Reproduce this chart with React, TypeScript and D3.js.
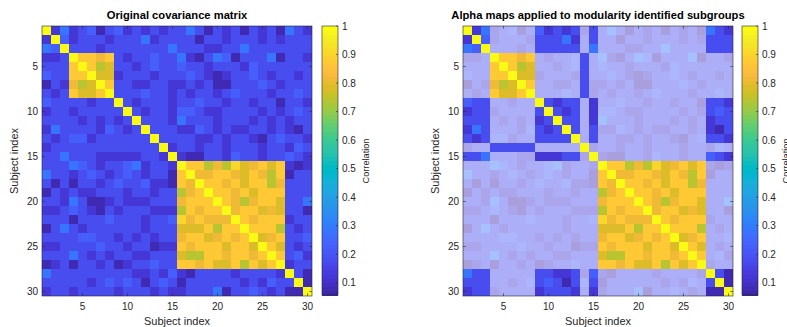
import React from 'react';
import * as d3 from 'd3';

// ---------- data ----------
const SUBJECTS: number[] = [1,2,3,4,5,6,7,8,9,10,11,12,13,14,15,16,17,18,19,20,21,22,23,24,25,26,27,28,29,30];
const AXIS_TICKS: number[] = [5, 10, 15, 20, 25, 30];
const CBAR_TICKS: number[] = [0.1, 0.2, 0.3, 0.4, 0.5, 0.6, 0.7, 0.8, 0.9, 1];
const COLOR_LIMITS: [number, number] = [0.057, 1];

// value codes used in the triangle below
const CODE_VALUES: Record<string, number> = {
  '1': 0.08, '2': 0.13, '3': 0.18, '4': 0.23, '5': 0.28,
  g: 0.74, o: 0.78, d: 0.82, r: 0.87, s: 0.91, Y: 1,
};

// row i: values for columns i+1 .. 30 (matrix is symmetric, diagonal = 1)
const UPPER_TRIANGLE: string[] = [
  '25234134232323353132313231532',
  '4233323335' + '2333313323' + '33232333',
  '333233333' + '3353332233' + '53333333',
  'rrdr' + '3233433' + '521354133351332',
  'rgo' + '3323433' + '433233324333333',
  'oo' + '2333233' + '343212334323323',
  'r' + '3322332' + '232311333432333',
  '3334332' + '323323433323343',
  '323332' + '334332332331332',
  '32332' + '443223333232343',
  '3332' + '533323332323233',
  '333' + '224323223323213',
  '33' + '332232332134332',
  '2' + '332332333233243',
  '211332433233432',
  'rrgdgsodror' + '212',
  'ddrrdordgr' + '133',
  'rrdrorrgd' + '333',
  'rrdrorrr' + '333',
  'rdgdrro' + '335',
  'drrodo' + '331',
  'rdrrr' + '233',
  'rrrg' + '323',
  'odr' + '334',
  'ro' + '323',
  'r' + '342',
  '233',
  '31',
  '1',
];

// modularity-identified subgroups
const MODULE_A: number[] = [4, 5, 6, 7, 8, 14];
const MODULE_B: number[] = [1, 2, 3, 9, 10, 11, 12, 13, 15, 28, 29, 30];
const MODULE_C: number[] = [16, 17, 18, 19, 20, 21, 22, 23, 24, 25, 26, 27];
const OUTSIDE_ALPHA = 0.45;

// MATLAB parula colormap (64 entries)
const PARULA: number[][] = [
  [0.2422,0.1504,0.6603],[0.2504,0.1650,0.7076],[0.2578,0.1818,0.7511],[0.2647,0.1978,0.7952],
  [0.2706,0.2147,0.8364],[0.2751,0.2342,0.8710],[0.2783,0.2559,0.8991],[0.2803,0.2782,0.9221],
  [0.2813,0.3006,0.9414],[0.2810,0.3228,0.9579],[0.2795,0.3447,0.9717],[0.2760,0.3667,0.9829],
  [0.2699,0.3892,0.9906],[0.2602,0.4123,0.9952],[0.2440,0.4358,0.9988],[0.2206,0.4603,0.9973],
  [0.1963,0.4847,0.9892],[0.1834,0.5074,0.9798],[0.1786,0.5289,0.9682],[0.1764,0.5499,0.9520],
  [0.1687,0.5703,0.9359],[0.1540,0.5902,0.9218],[0.1460,0.6091,0.9079],[0.1380,0.6276,0.8973],
  [0.1248,0.6459,0.8883],[0.1113,0.6635,0.8763],[0.0952,0.6798,0.8598],[0.0689,0.6948,0.8394],
  [0.0297,0.7082,0.8163],[0.0036,0.7203,0.7917],[0.0067,0.7312,0.7660],[0.0433,0.7411,0.7394],
  [0.0964,0.7500,0.7120],[0.1408,0.7584,0.6842],[0.1717,0.7670,0.6554],[0.1938,0.7758,0.6251],
  [0.2161,0.7843,0.5923],[0.2470,0.7918,0.5567],[0.2906,0.7973,0.5188],[0.3406,0.8008,0.4789],
  [0.3909,0.8029,0.4354],[0.4456,0.8024,0.3909],[0.5044,0.7993,0.3480],[0.5616,0.7942,0.3045],
  [0.6174,0.7876,0.2612],[0.6720,0.7793,0.2227],[0.7242,0.7698,0.1910],[0.7738,0.7598,0.1646],
  [0.8203,0.7498,0.1535],[0.8634,0.7406,0.1596],[0.9035,0.7330,0.1774],[0.9393,0.7288,0.2100],
  [0.9728,0.7298,0.2394],[0.9956,0.7434,0.2371],[0.9970,0.7659,0.2199],[0.9952,0.7893,0.2028],
  [0.9892,0.8136,0.1885],[0.9786,0.8386,0.1766],[0.9676,0.8639,0.1643],[0.9610,0.8890,0.1537],
  [0.9597,0.9135,0.1423],[0.9628,0.9373,0.1265],[0.9691,0.9606,0.1064],[0.9769,0.9839,0.0805],
];

// ---------- helpers ----------
const FONT = '"Liberation Sans", Arial, Helvetica, sans-serif';
const TEXT = '#262626';
const AXIS = '#262626';

const parulaColors = PARULA.map(c => d3.rgb(c[0] * 255, c[1] * 255, c[2] * 255).formatHex());

function colorFor(v: number): string {
  const t = Math.max(0, Math.min(1, (v - COLOR_LIMITS[0]) / (COLOR_LIMITS[1] - COLOR_LIMITS[0])));
  const idx = Math.min(PARULA.length - 1, Math.floor(t * PARULA.length));
  return parulaColors[idx];
}

function buildMatrix(): number[][] {
  const n = SUBJECTS.length;
  const m: number[][] = SUBJECTS.map(() => SUBJECTS.map(() => 1));
  for (let i = 0; i < n; i++) {
    const row = UPPER_TRIANGLE[i] || '';
    for (let j = i + 1; j < n; j++) {
      const ch = row[j - i - 1];
      const v = CODE_VALUES[ch] ?? 0.18;
      m[i][j] = v;
      m[j][i] = v;
    }
  }
  return m;
}

function moduleOf(s: number): number {
  if (MODULE_A.includes(s)) return 0;
  if (MODULE_B.includes(s)) return 1;
  if (MODULE_C.includes(s)) return 2;
  return -1;
}

type PanelProps = {
  x0: number; y0: number; size: number; cbarX: number;
  title: string; useAlpha: boolean; matrix: number[][]; yLabelX: number;
};

function Panel({ x0, y0, size, cbarX, title, useAlpha, matrix, yLabelX }: PanelProps) {
  const xs = d3.scaleBand<number>().domain(SUBJECTS).range([x0, x0 + size]);
  const ys = d3.scaleBand<number>().domain(SUBJECTS).range([y0, y0 + size]);
  const bw = xs.bandwidth();
  const tickLen = 2.7;
  const cbarW = 16;
  const cbarTop = y0;
  const cbarBottom = y0 + size - 1;
  const cy = d3.scaleLinear().domain(COLOR_LIMITS).range([cbarBottom, cbarTop]);
  const bandVals = d3.range(PARULA.length);
  const bandH = (cbarBottom - cbarTop) / PARULA.length;

  return (
    <g>
      <text x={x0 + size / 2} y={19} textAnchor="middle" fontFamily={FONT} fontWeight="bold"
        fontSize={11.2} fill="#000">{title}</text>
      <g shapeRendering="crispEdges">
        {SUBJECTS.map((ri, i) => SUBJECTS.map((cj, j) => {
          const v = matrix[i][j];
          const same = moduleOf(ri) === moduleOf(cj);
          const op = useAlpha && !same ? OUTSIDE_ALPHA : 1;
          return <rect key={`${i}-${j}`} x={xs(cj)} y={ys(ri)} width={bw} height={bw}
            fill={colorFor(v)} fillOpacity={op} />;
        }))}
      </g>
      <rect x={x0} y={y0} width={size} height={size} fill="none" stroke={AXIS} strokeWidth={0.6} />
      {AXIS_TICKS.map(t => {
        const px = (xs(t) as number) + bw / 2;
        const py = (ys(t) as number) + bw / 2;
        return (
          <g key={t} stroke={AXIS} strokeWidth={0.6}>
            <line x1={px} x2={px} y1={y0 + size} y2={y0 + size - tickLen} />
            <line x1={px} x2={px} y1={y0} y2={y0 + tickLen} />
            <line x1={x0} x2={x0 + tickLen} y1={py} y2={py} />
            <line x1={x0 + size} x2={x0 + size - tickLen} y1={py} y2={py} />
          </g>
        );
      })}
      {AXIS_TICKS.map(t => (
        <text key={'xl' + t} x={(xs(t) as number) + bw / 2} y={310} textAnchor="middle"
          fontFamily={FONT} fontSize={10} fill={TEXT}>{t}</text>
      ))}
      {AXIS_TICKS.map(t => (
        <text key={'yl' + t} x={x0 - 4} y={(ys(t) as number) + bw / 2} textAnchor="end"
          dominantBaseline="central" fontFamily={FONT} fontSize={10} fill={TEXT}>{t}</text>
      ))}
      <text x={x0 + size / 2} y={325} textAnchor="middle" fontFamily={FONT} fontSize={11} fill={TEXT}>Subject index</text>
      <text transform={`translate(${yLabelX},${y0 + size / 2}) rotate(-90)`} textAnchor="middle"
        fontFamily={FONT} fontSize={11} fill={TEXT}>Subject index</text>
      <g shapeRendering="crispEdges">
        {bandVals.map(k => (
          <rect key={k} x={cbarX} y={cbarBottom - (k + 1) * bandH} width={cbarW} height={bandH + 0.6}
            fill={parulaColors[k]} />
        ))}
      </g>
      <rect x={cbarX} y={cbarTop} width={cbarW} height={cbarBottom - cbarTop} fill="none" stroke={AXIS} strokeWidth={0.6} />
      {CBAR_TICKS.map(t => (
        <g key={'c' + t}>
          <line x1={cbarX + cbarW} x2={cbarX + cbarW - 2} y1={cy(t)} y2={cy(t)} stroke={AXIS} strokeWidth={0.6} />
          <text x={cbarX + cbarW + 4} y={cy(t)} dominantBaseline="central" fontFamily={FONT}
            fontSize={10} fill={TEXT}>{t}</text>
        </g>
      ))}
      <text transform={`translate(${cbarX + 44},${y0 + size / 2}) rotate(-90)`} textAnchor="middle"
        dominantBaseline="central" fontFamily={FONT} fontSize={9.2} fill={TEXT}>Correlation</text>
    </g>
  );
}

export default function App() {
  const matrix = buildMatrix();
  return (
    <svg width={787} height={327} style={{ position: 'absolute', left: 0, top: 0, background: '#fff' }}>
      <rect x={0} y={0} width={787} height={327} fill="#fff" />
      <Panel x0={42} y0={26} size={270} cbarX={322} title="Original covariance matrix"
        useAlpha={false} matrix={matrix} yLabelX={18} />
      <Panel x0={463} y0={26} size={270} cbarX={742} title="Alpha maps applied to modularity identified subgroups"
        useAlpha={true} matrix={matrix} yLabelX={439} />
    </svg>
  );
}
